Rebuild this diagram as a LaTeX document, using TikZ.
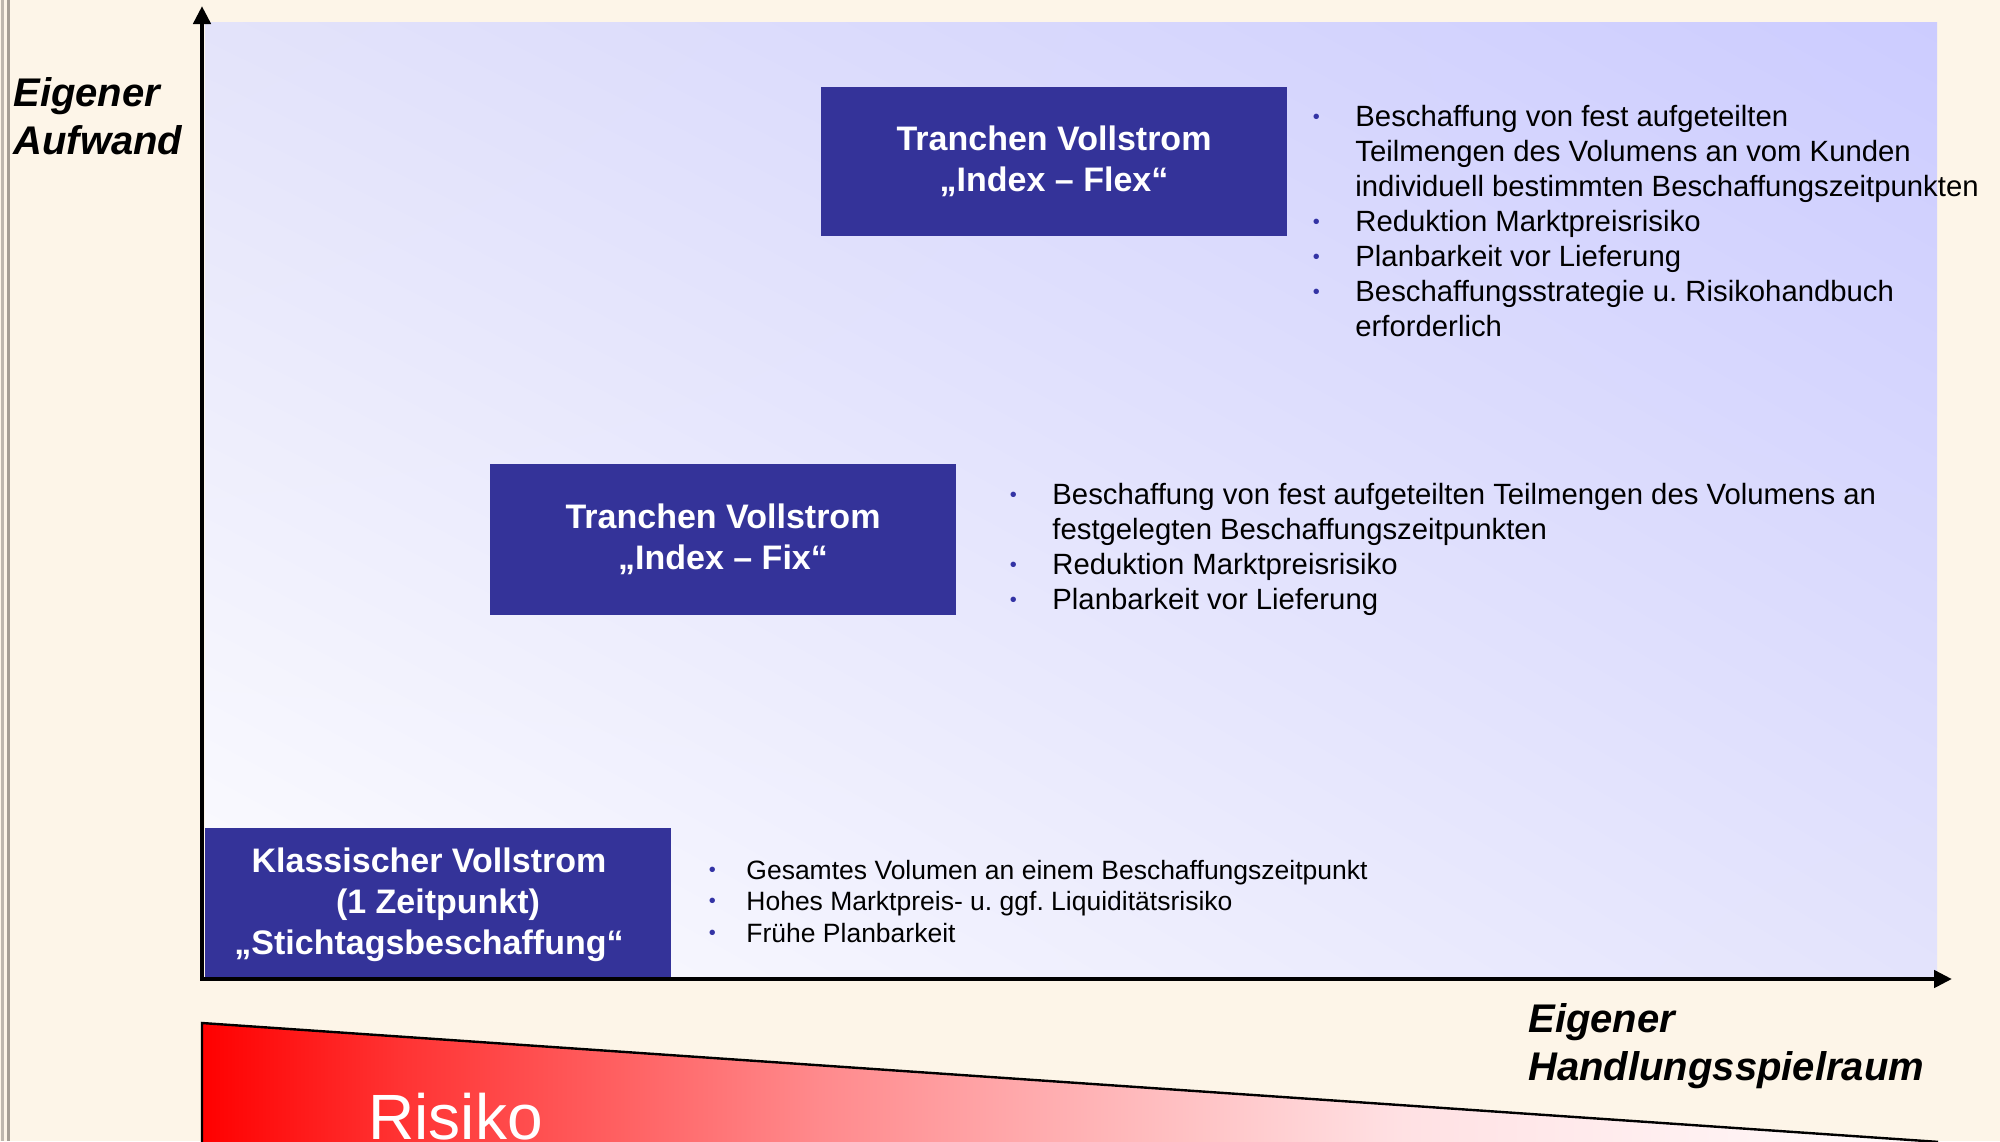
\documentclass[tikz,border=0pt]{standalone}
\usepackage{fontspec}
\setmainfont{Liberation Sans}
\usetikzlibrary{arrows.meta,shadings}
\definecolor{cream}{RGB}{253,245,232}
\definecolor{boxblue}{RGB}{52,51,153}
\definecolor{bulblue}{RGB}{51,51,165}
\definecolor{edgegrayA}{RGB}{190,183,174}
\definecolor{edgegrayB}{RGB}{165,158,149}
\definecolor{lavUL}{RGB}{227,227,250}
\definecolor{lavUR}{RGB}{204,204,255}
\definecolor{lavLL}{RGB}{253,253,255}
\definecolor{lavLR}{RGB}{227,227,252}
\pgfdeclarehorizontalshading{riskshade}{100bp}{rgb(0bp)=(1,0,0); rgb(25bp)=(1,0,0); rgb(30.7bp)=(1,0.2,0.2); rgb(42.8bp)=(1,0.54,0.55); rgb(48bp)=(1,0.65,0.66); rgb(59.5bp)=(1,0.88,0.89); rgb(75bp)=(1,0.99,0.99); rgb(100bp)=(1,0.99,0.99)}
\newcommand{\bulmark}[1]{\makebox[#1][l]{\makebox[0pt][c]{\textcolor{bulblue}{\raisebox{1.5pt}{\fontsize{10}{10}\selectfont\textbullet}}}}}
\newcommand{\bulcont}[1]{\hspace*{#1}}
\newcommand{\rpad}{\hspace*{9pt}}
\frenchspacing
\tikzset{
  bluebox/.style={fill=boxblue, text=white, inner sep=0pt, minimum width=233pt, minimum height=74.5pt, align=center, font=\bfseries\fontsize{17}{20.6}\selectfont},
  listnode/.style={anchor=base west, inner sep=0pt},
  biglist/.style={listnode, font=\fontsize{14.65}{17.5}\selectfont},
  smalllist/.style={listnode, font=\fontsize{13.25}{15.95}\selectfont},
  axislabel/.style={anchor=base west, inner sep=0pt, font=\bfseries\itshape\fontsize{20}{24}\selectfont},
  axisline/.style={line width=2.25pt, black, {Triangle[width=8.5pt,length=9pt]}-{Triangle[width=8.5pt,length=9pt]}}
}
\begin{document}
\frenchspacing
\begin{tikzpicture}[x=0.5pt,y=-0.5pt]
\useasboundingbox (0,0) rectangle (2000,1141);
\begin{scope}
\clip (0,0) rectangle (2000,1141);
\fill[cream] (0,0) rectangle (2000,1141);
% left edge double line
\draw[edgegrayA, line width=1.1pt] (2.5,0) -- (2.5,1141);
\draw[edgegrayB, line width=1.1pt] (8.5,0) -- (8.5,1141);
% plot area gradient
\shade[upper left=lavUL, upper right=lavUR, lower left=lavLL, lower right=lavLR] (205,22) rectangle (1937,976);
% boxes
\node[bluebox] (flex) at (1054,161) {Tranchen Vollstrom\\„Index – Flex“};
\node[bluebox, minimum height=75.5pt] (fix) at (723,539.5) {Tranchen Vollstrom\\„Index – Fix“};
\node[bluebox] (klass) at (438,902) {\rule{0pt}{15pt}Klassischer Vollstrom\rpad\\(1 Zeitpunkt)\rpad\\„Stichtagsbeschaffung“\rpad};
% lists
\node[biglist] (flexlist) at (1316,126) {\parbox[t]{350pt}{\raggedright
\bulmark{19.5pt}Beschaffung von fest aufgeteilten\\
\bulcont{19.5pt}Teilmengen des Volumens an vom Kunden\\
\bulcont{19.5pt}individuell bestimmten Beschaffungszeitpunkten\\
\bulmark{19.5pt}Reduktion Marktpreisrisiko\\
\bulmark{19.5pt}Planbarkeit vor Lieferung\\
\bulmark{19.5pt}Beschaffungsstrategie u. Risikohandbuch\\
\bulcont{19.5pt}erforderlich}};
\node[biglist] (fixlist) at (1013,504.3) {\parbox[t]{470pt}{\raggedright
\bulmark{19.5pt}Beschaffung von fest aufgeteilten Teilmengen des Volumens an\\
\bulcont{19.5pt}festgelegten Beschaffungszeitpunkten\\
\bulmark{19.5pt}Reduktion Marktpreisrisiko\\
\bulmark{19.5pt}Planbarkeit vor Lieferung}};
\node[smalllist] (klasslist) at (712,879) {\parbox[t]{360pt}{\raggedright
\bulmark{17pt}Gesamtes Volumen an einem Beschaffungszeitpunkt\\
\bulmark{17pt}Hohes Marktpreis- u. ggf. Liquiditätsrisiko\\
\bulmark{17pt}Frühe Planbarkeit}};
% axes
\coordinate (origin) at (202,979);
\coordinate (ytip) at (202,6);
\coordinate (xtip) at (1952,979);
\draw[axisline] (ytip) -- (origin) -- (xtip);
% axis labels
\node[axislabel] (ylabel) at (13,106.5) {\parbox[t]{200pt}{Eigener\\Aufwand}};
\node[axislabel] (xlabel) at (1528,1032) {\parbox[t]{250pt}{Eigener\\Handlungsspielraum}};
% risk wedge
\shade[shading=riskshade, draw=black, line width=1.2pt] (202,1023) -- (1937,1141.8) -- (1937,1220) -- (202,1220) -- cycle;
\node[anchor=base west, inner sep=0pt, text=white, font=\fontsize{32}{36}\selectfont] (risiko) at (368,1139) {Risiko};
\end{scope}
\end{tikzpicture}
\end{document}
